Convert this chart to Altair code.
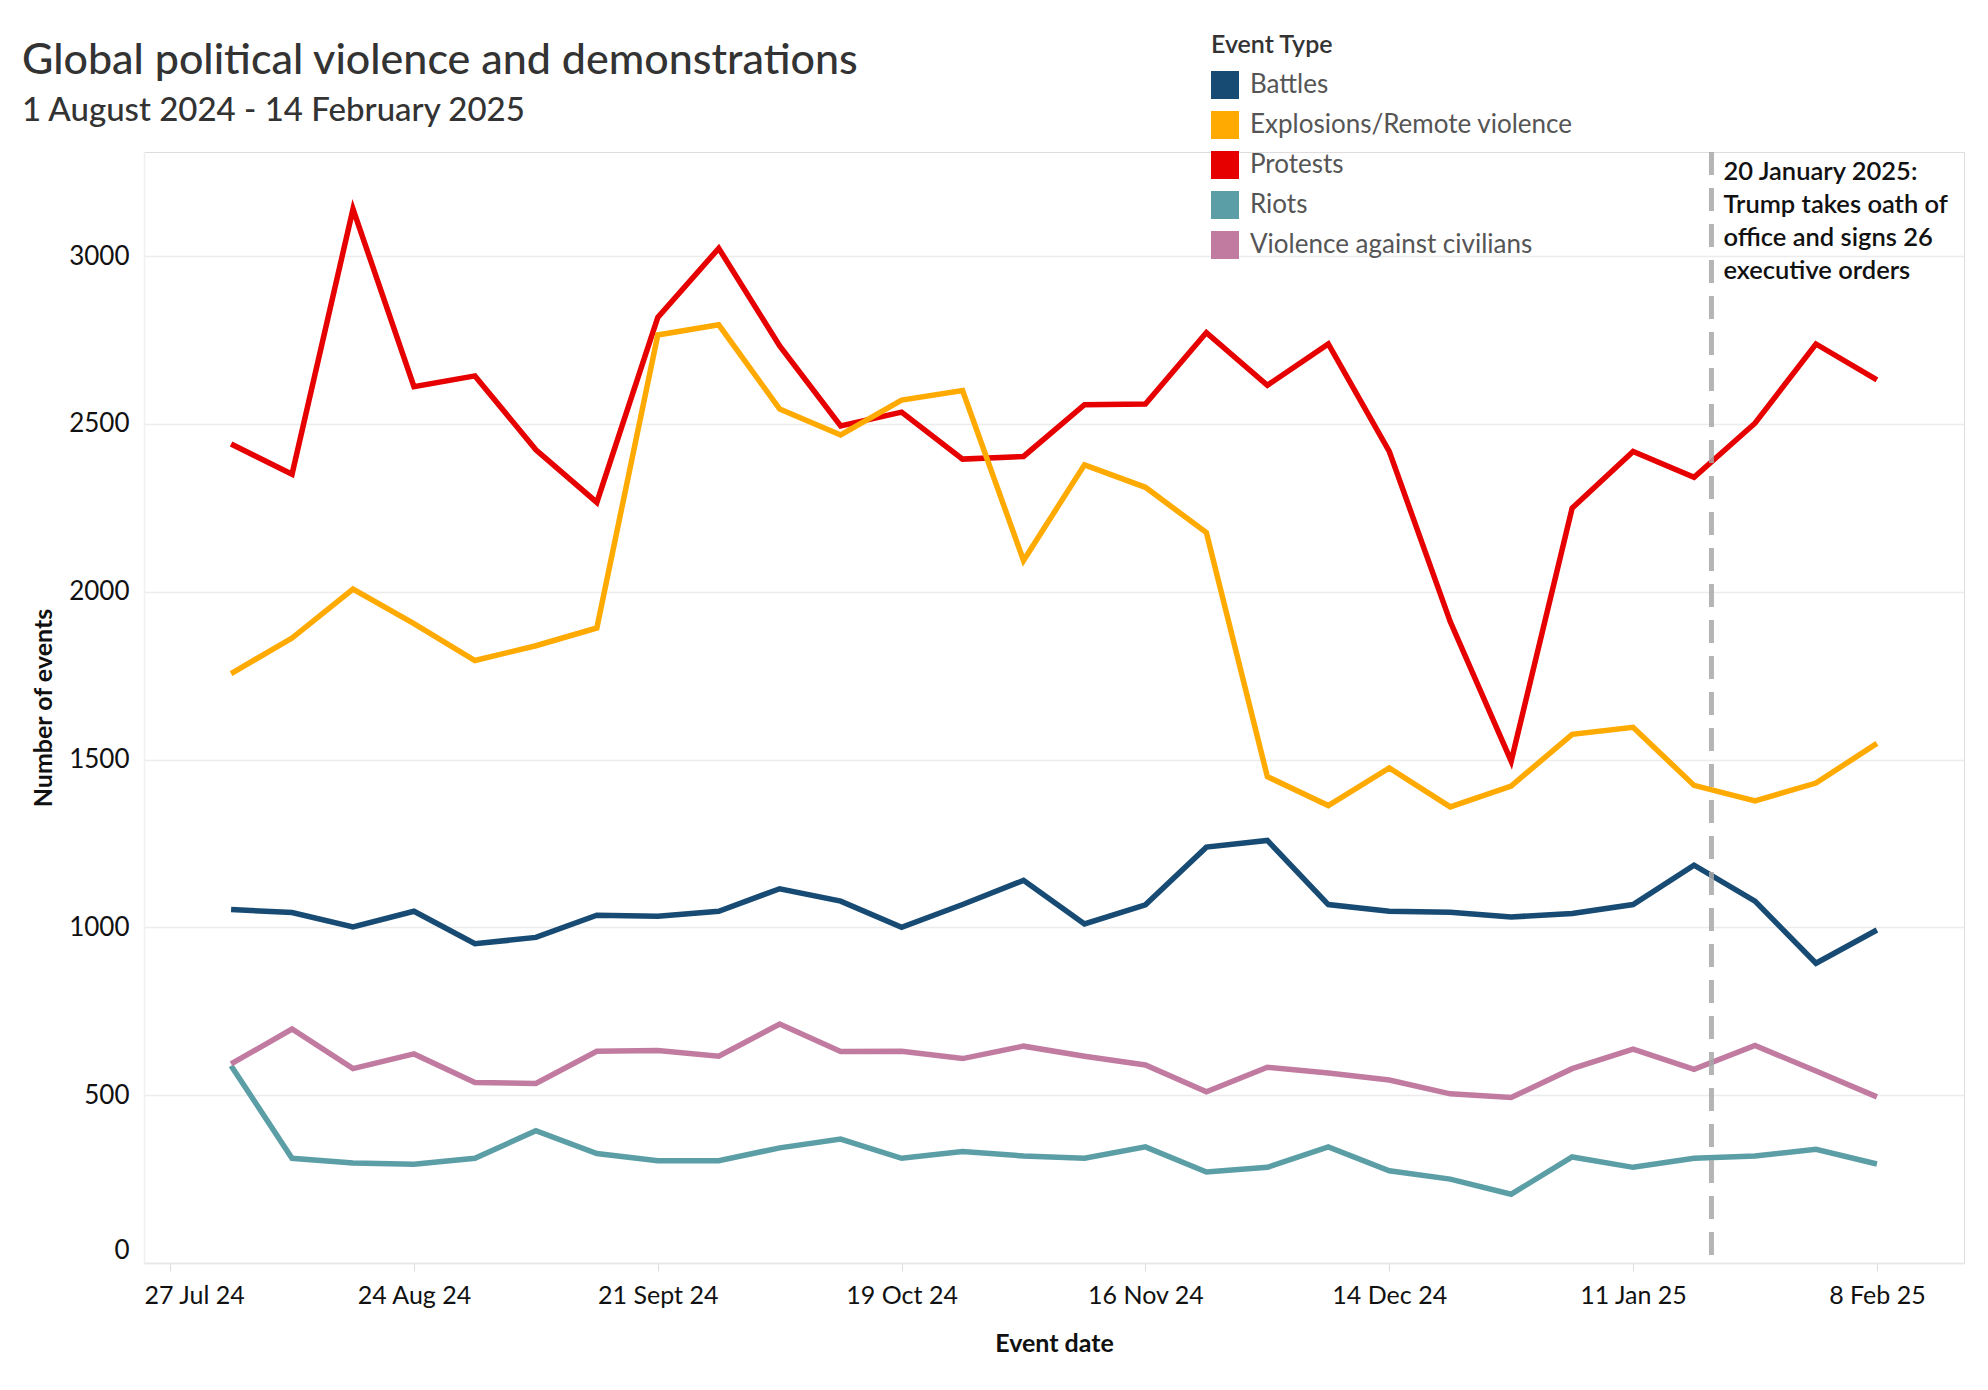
import altair as alt
import pandas as pd

# ---------------- data ----------------
weeks = [
    "2024-08-03", "2024-08-10", "2024-08-17", "2024-08-24", "2024-08-31",
    "2024-09-07", "2024-09-14", "2024-09-21", "2024-09-28",
    "2024-10-05", "2024-10-12", "2024-10-19", "2024-10-26",
    "2024-11-02", "2024-11-09", "2024-11-16", "2024-11-23", "2024-11-30",
    "2024-12-07", "2024-12-14", "2024-12-21", "2024-12-28",
    "2025-01-04", "2025-01-11", "2025-01-18", "2025-01-25",
    "2025-02-01", "2025-02-08",
]

battles = [1053, 1044, 1001, 1048, 951, 970, 1036, 1033, 1048, 1115, 1078, 1000, 1068, 1140,
           1010, 1067, 1239, 1259, 1068, 1048, 1045, 1031, 1041, 1068, 1185, 1078, 893, 992]
explosions = [1756, 1862, 2008, 1905, 1795, 1839, 1892, 2765, 2795, 2544, 2467, 2571, 2599, 2093,
              2378, 2311, 2176, 1449, 1363, 1475, 1359, 1421, 1575, 1596, 1423, 1377, 1430, 1548]
protests = [2440, 2350, 3140, 2611, 2643, 2423, 2266, 2817, 3023, 2732, 2494, 2535, 2395, 2403,
            2557, 2559, 2772, 2615, 2738, 2418, 1911, 1495, 2249, 2418, 2341, 2502, 2738, 2631]
riots = [588, 312, 298, 294, 312, 394, 326, 305, 305, 343, 369, 312, 332, 319,
         312, 346, 271, 285, 346, 275, 250, 205, 316, 285, 312, 319, 339, 295]
civilians = [593, 697, 579, 623, 538, 535, 631, 633, 616, 712, 630, 631, 609, 646,
             616, 590, 510, 583, 566, 545, 504, 493, 579, 637, 577, 648, 572, 495]

event_types = ["Battles", "Explosions/Remote violence", "Protests", "Riots",
               "Violence against civilians"]
colors = ["#174b73", "#ffaa00", "#e60000", "#5b9ea6", "#c27ba0"]
draw_order = ["Battles", "Protests", "Explosions/Remote violence", "Riots",
              "Violence against civilians"]

tick_dates = ["2024-07-27", "2024-08-24", "2024-09-21", "2024-10-19",
              "2024-11-16", "2024-12-14", "2025-01-11", "2025-02-08"]
tick_labels = ["27 Jul 24", "24 Aug 24", "21 Sept 24", "19 Oct 24",
               "16 Nov 24", "14 Dec 24", "11 Jan 25", "8 Feb 25"]
x_domain = ["2024-07-24", "2025-02-18"]
y_ticks = [0, 500, 1000, 1500, 2000, 2500, 3000]
y_domain = [0, 3310]

annotation_date = ["2025-01-20"]
annotation_text = ["20 January 2025:\nTrump takes oath of\noffice and signs 26\nexecutive orders"]

title_text = ["Global political violence and demonstrations"]
subtitle_text = ["1 August 2024 - 14 February 2025"]

# ---------------- tables ----------------
series = {
    "Battles": battles,
    "Explosions/Remote violence": explosions,
    "Protests": protests,
    "Riots": riots,
    "Violence against civilians": civilians,
}
rows = []
for et in draw_order:
    for d, v in zip(weeks, series[et]):
        rows.append({"date": pd.Timestamp(d), "Event Type": et, "events": v})
df = pd.DataFrame(rows)

ann = pd.DataFrame({"date": [pd.Timestamp(d) for d in annotation_date], "label": annotation_text})
titles = pd.DataFrame({"title": title_text, "subtitle": subtitle_text})


def dt(s):
    t = pd.Timestamp(s)
    return alt.DateTime(year=t.year, month=t.month, date=t.day)


label_expr = ""
for d, l in zip(tick_dates, tick_labels):
    label_expr += f"timeFormat(datum.value, '%Y-%m-%d') == '{d}' ? '{l}' : "
label_expr += "''"

FONT = "Lato"

x_scale = alt.Scale(domain=[dt(x_domain[0]), dt(x_domain[1])])
y_scale = alt.Scale(domain=y_domain, nice=False, zero=True)
color_scale = alt.Scale(domain=event_types, range=colors)

x_enc = alt.X(
    "date:T",
    scale=x_scale,
    axis=alt.Axis(
        title="Event date",
        values=[dt(d) for d in tick_dates],
        labelExpr=label_expr,
        labelOffset={
            "condition": {
                "test": f"timeFormat(datum.value, '%Y-%m-%d') == '{tick_dates[0]}'",
                "value": 24,
            },
            "value": 0,
        },
        grid=False,
        domainColor="#e8e8e8",
        domainWidth=1.5,
        tickColor="#dddddd",
        tickSize=8,
        labelPadding=12,
        labelFont=FONT,
        labelFontSize=25,
        labelColor="#111111",
        titleFont=FONT,
        titleFontSize=25,
        titleFontWeight="bold",
        titleColor="#111111",
        titlePadding=23,
    ),
)
y_enc = alt.Y(
    "events:Q",
    scale=y_scale,
    axis=alt.Axis(
        title="Number of events",
        values=y_ticks,
        format="d",
        grid=True,
        gridColor="#ececec",
        gridWidth=1.5,
        domainColor="#f0f0f0",
        domainWidth=1.5,
        ticks=False,
        labelPadding=15,
        labelFlush=True,
        labelFont=FONT,
        labelFontSize=26,
        labelColor="#111111",
        titleFont=FONT,
        titleFontSize=25,
        titleFontWeight="bold",
        titleColor="#111111",
        titlePadding=12,
    ),
)

legend = alt.Legend(
    orient="none",
    legendX=1067,
    legendY=-119,
    padding=0,
    title="Event Type",
    titleFont=FONT,
    titleFontSize=25,
    titleFontWeight=600,
    titleColor="#333333",
    titlePadding=13,
    labelFont=FONT,
    labelFontSize=26,
    labelColor="#555555",
    labelOffset=11,
    labelLimit=0,
    symbolType="square",
    symbolSize=784,
    symbolStrokeWidth=0,
    symbolOpacity=1,
    rowPadding=12,
)

# legend-only layer (filtered to no rows) giving filled square swatches
legend_layer = alt.Chart(df).transform_filter("false").mark_square(opacity=1).encode(
    x=alt.X("date:T", scale=x_scale),
    y=alt.Y("events:Q", scale=y_scale),
    color=alt.Color("Event Type:N", scale=color_scale, legend=legend),
)

lines = alt.Chart(df).mark_line(strokeWidth=5.5, strokeJoin="miter").encode(
    x=x_enc,
    y=y_enc,
    color=alt.Color("Event Type:N", scale=color_scale, legend=legend),
    detail="Event Type:N",
)

rule = alt.Chart(ann).mark_rule(
    color="#a8a8a8", strokeWidth=5, strokeDash=[23, 13], opacity=0.85
).encode(x=alt.X("date:T", scale=x_scale))

note = alt.Chart(ann).mark_text(
    align="left", baseline="top", dx=12, lineBreak="\n", lineHeight=33,
    font=FONT, fontSize=25.5, fontWeight=600, color="#111111",
).encode(
    x=alt.X("date:T", scale=x_scale),
    y=alt.value(8),
    text="label:N",
)

# chart title and subtitle, placed above the plot area
title_mark = alt.Chart(titles).mark_text(
    align="left", baseline="alphabetic", font=FONT, fontSize=43, fontWeight=500,
    color="#333333",
).encode(x=alt.value(-122), y=alt.value(-78), text="title:N")

subtitle_mark = alt.Chart(titles).mark_text(
    align="left", baseline="alphabetic", font=FONT, fontSize=33, fontWeight=500,
    color="#333333",
).encode(x=alt.value(-122), y=alt.value(-31), text="subtitle:N")

chart = alt.layer(legend_layer, lines, rule, note, title_mark, subtitle_mark).properties(
    width=1820,
    height=1111,
    autosize=alt.AutoSizeParams(type="none"),
    padding={"left": 136, "top": 144, "right": 16, "bottom": 119},
).configure_view(stroke=None).configure(background="white")

chart.save("out.html", embed_options={"renderer": "svg", "actions": False})
